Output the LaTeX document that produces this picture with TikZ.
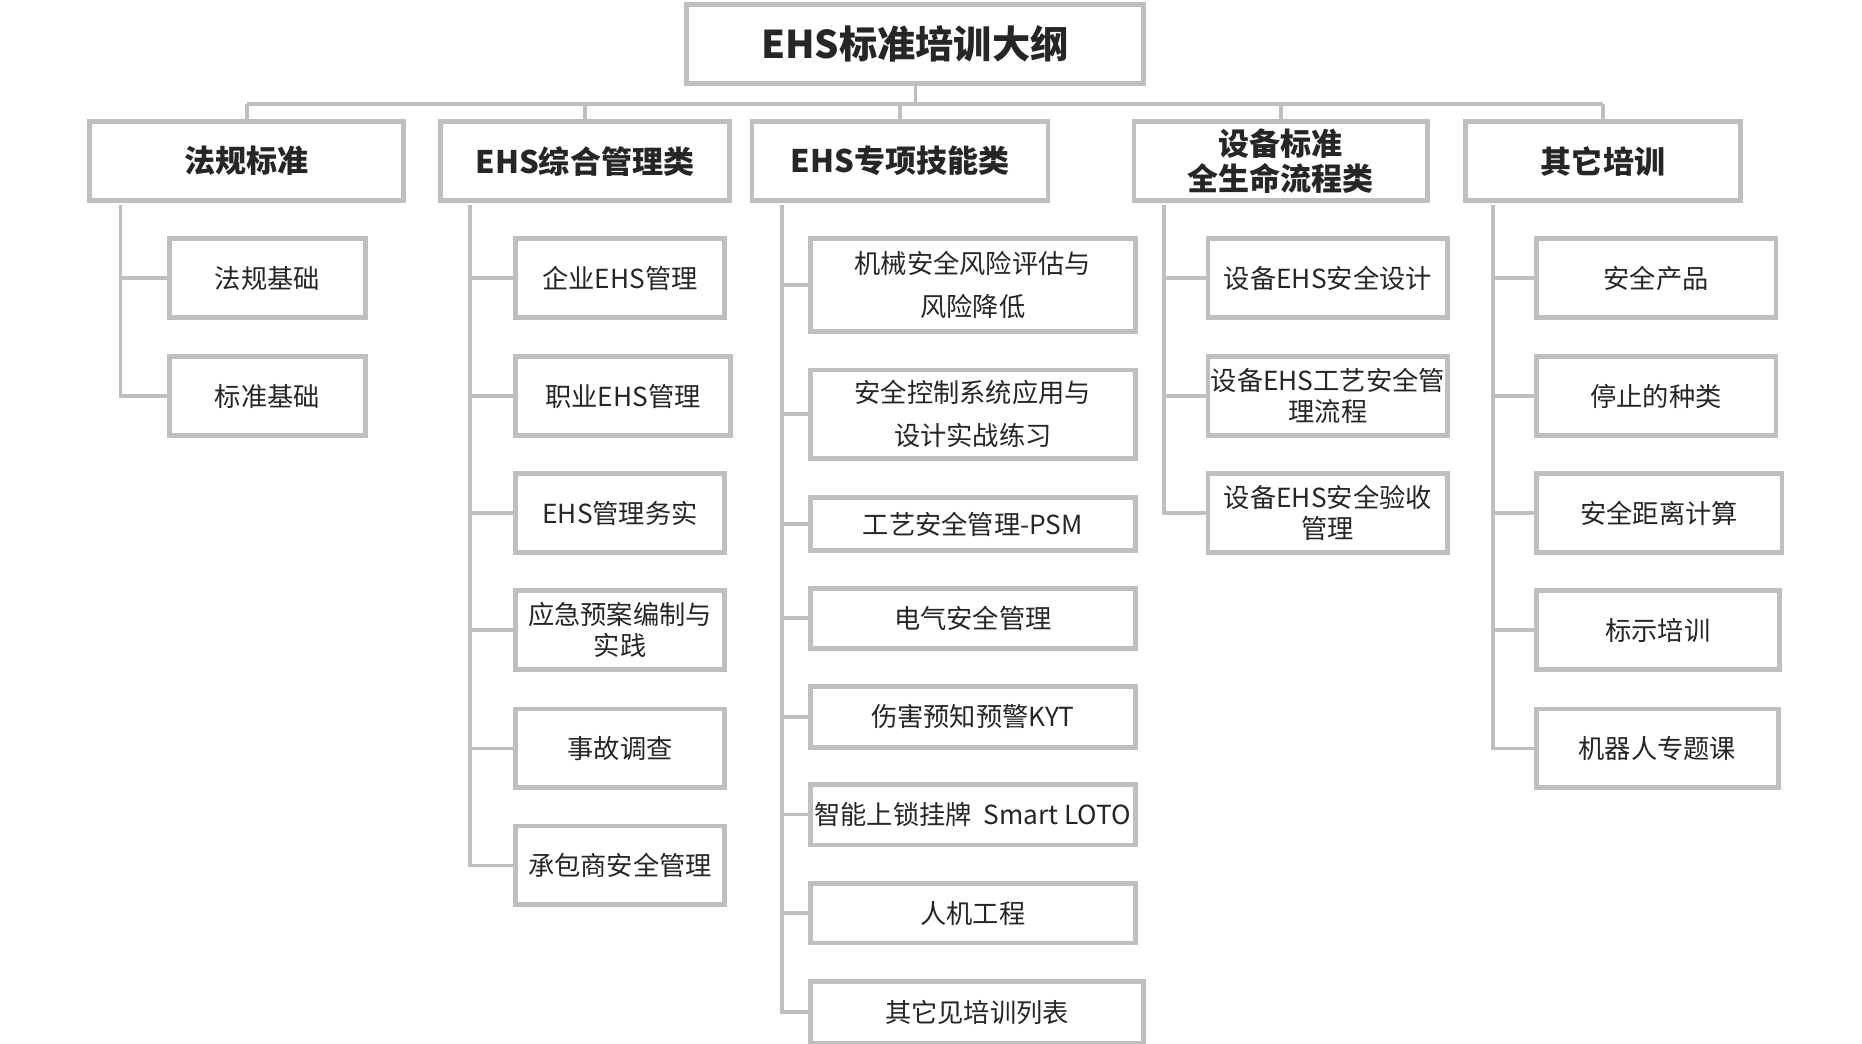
\documentclass[tikz,border=0pt]{standalone}
\usepackage{fontspec}
\setmainfont{Carlito}
\newfontfamily\cjk{Noto Sans CJK SC}
\usetikzlibrary{calc}
\definecolor{bd}{HTML}{BFBFBF}
\definecolor{tx}{HTML}{262626}
\tikzset{
  bx/.style={draw=bd,line width=4pt,fill=white,inner sep=0pt,align=center,text=tx,font=\fontsize{22}{30}\selectfont\cjk},
  cat/.style={bx,font=\fontsize{26}{30}\selectfont\bfseries\cjk},
  ln/.style={draw=bd,line width=3pt}
}
\newcommand{\bxx}[7][bx]{\node[#1,minimum width={#5-#3-4},minimum height={#6-#4-4}] (#2) at ({(#3+#5)/2},{(#4+#6)/2}) {#7};}
\begin{document}
\begin{tikzpicture}[x=1pt,y=-1pt]
\useasboundingbox (0,0) rectangle (1560,874);
\fill[white] (0,0) rectangle (1560,874);
% bus
\coordinate (bl) at (207,87); \coordinate (br) at (1343,87);
\draw[ln] (bl) -- (br);
\bxx[cat]{root}{573}{2}{960}{72}{\fontsize{32}{36}\selectfont EHS标准培训大纲}
\draw[ln] (767,72) -- (767,87);
\bxx[cat]{c1}{73}{100}{340}{170}{法规标准}
\bxx[cat]{c2}{367}{100}{613}{170}{EHS综合管理类}
\bxx[cat]{c3}{628}{100}{880}{170}{EHS专项技能类}
\bxx[cat]{c4}{948}{100}{1198}{170}{设备标准\\全生命流程类}
\bxx[cat]{c5}{1226}{100}{1460}{170}{其它培训}
\foreach \c/\x in {c1/207,c2/490,c3/754,c4/1073,c5/1343}{\draw[ln] (\x,87) -- (\c.north -| \x,0);}
% children
\bxx{a1}{140}{198}{308}{268}{法规基础}
\bxx{a2}{140}{297}{308}{367}{标准基础}
\bxx{b1}{430}{198}{609}{268}{企业EHS管理}
\bxx{b2}{430}{297}{614}{367}{职业EHS管理}
\bxx{b3}{430}{395}{609}{465}{EHS管理务实}
\bxx{b4}{430}{493}{609}{563}{应急预案编制与\\[-4pt]实践}
\bxx{b5}{430}{592}{609}{662}{事故调查}
\bxx{b6}{430}{690}{609}{760}{承包商安全管理}
\bxx{d1}{677}{198}{953}{280}{机械安全风险评估与\\[6pt]风险降低}
\bxx{d2}{677}{308}{953}{386}{安全控制系统应用与\\[6pt]设计实战练习}
\bxx{d3}{677}{415}{953}{463}{工艺安全管理-PSM}
\bxx{d4}{677}{491}{953}{545}{电气安全管理}
\bxx{d5}{677}{573}{953}{628}{伤害预知预警KYT}
\bxx{d6}{677}{655}{953}{710}{智能上锁挂牌\ \ Smart LOTO}
\bxx{d7}{677}{738}{953}{792}{人机工程}
\bxx{d8}{677}{820}{960}{876}{其它见培训列表}
\bxx{e1}{1010}{198}{1215}{268}{设备EHS安全设计}
\bxx{e2}{1010}{297}{1215}{367}{设备EHS工艺安全管\\[-4pt]理流程}
\bxx{e3}{1010}{395}{1215}{465}{设备EHS安全验收\\[-4pt]管理}
\bxx{f1}{1285}{198}{1490}{268}{安全产品}
\bxx{f2}{1285}{297}{1490}{367}{停止的种类}
\bxx{f3}{1285}{395}{1495}{465}{安全距离计算}
\bxx{f4}{1285}{493}{1493}{563}{标示培训}
\bxx{f5}{1285}{592}{1492}{662}{机器人专题课}
\begin{scope}[on background layer/.try]
\end{scope}
\draw[ln] (101,172) |- (a2.west); \draw[ln] (101,233) -- (a1.west);
\draw[ln] (394,172) |- (b6.west);
\foreach \n in {b1,b2,b3,b4,b5}{\draw[ln] (394,0 |- \n.west) -- (\n.west);}
\draw[ln] (655,172) |- (d8.west);
\foreach \n in {d1,d2,d3,d4,d5,d6,d7}{\draw[ln] (655,0 |- \n.west) -- (\n.west);}
\draw[ln] (975,172) |- (e3.west);
\foreach \n in {e1,e2}{\draw[ln] (975,0 |- \n.west) -- (\n.west);}
\draw[ln] (1251,172) |- (f5.west);
\foreach \n in {f1,f2,f3,f4}{\draw[ln] (1251,0 |- \n.west) -- (\n.west);}
\end{tikzpicture}
\end{document}
